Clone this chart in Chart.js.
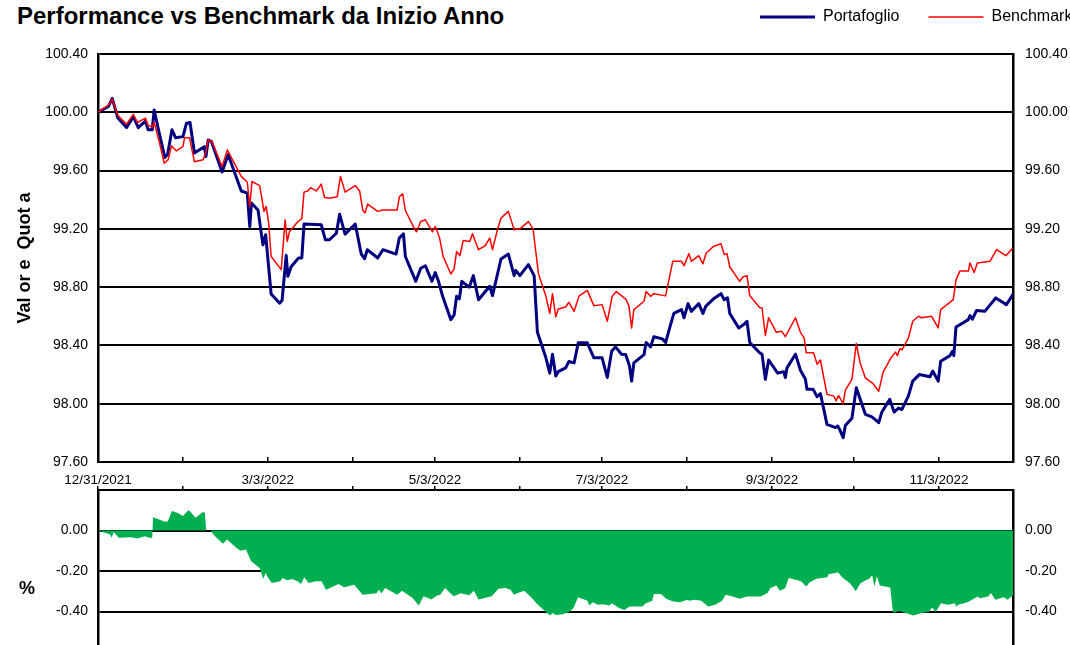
<!DOCTYPE html>
<html>
<head>
<meta charset="utf-8">
<script src="https://cdn.jsdelivr.net/npm/chart.js@4.4.0/dist/chart.umd.min.js"></script>
<style>
html,body{margin:0;padding:0;width:1070px;height:645px;overflow:hidden;background:#fff}
#title{position:absolute;left:17px;top:4px;font:bold 24px "Liberation Sans",Arial,sans-serif;line-height:24px;color:#000;white-space:nowrap}
#pct{position:absolute;left:19px;top:578px;font:bold 18px "Liberation Sans",Arial,sans-serif;color:#000}
#c1{position:absolute;left:0;top:0}
#c2{position:absolute;left:0;top:478px}
</style>
</head>
<body>
<div id="title">Performance vs Benchmark da Inizio Anno</div>
<canvas id="c1" width="1110" height="490"></canvas>
<canvas id="c2" width="1110" height="200"></canvas>
<div id="pct">%</div>
<script>
// days since 12/31/2021
const tickDays=[0,31,62,93,123,154,184,215,246,276,307]
const tickLabels=["12/31/2021","3/3/2022","5/3/2022","7/3/2022","9/3/2022","11/3/2022"]
const exTicks=[0,-0.2,-0.4,-0.6]

const pfDays=[0,3.8,5.2,7.2,10.4,12.9,14.7,17.3,18.3,19.8,20.5,22.2,24.4,25.4,27,28.3,31,32.3,33.6,35.2,38.8,39.4,40.2,41.4,45.3,47.5,52.3,54.5,55.4,56,58.4,60.2,61.2,63.2,66.3,67.2,68.7,69.3,70.5,73.2,74.4,75.2,81.5,83,84.5,87,88.2,90.2,93.9,96.1,97.3,98.3,102.1,104,108.8,110,111.5,112.2,116,117.8,119.5,121.9,123.1,124.3,125.8,128.8,130,130.9,131.9,132.8,135.5,137,138.9,143,144,147.1,149.8,151.9,152.5,154,157.1,159.2,160.4,163.5,164.9,165.9,167.1,168,170.7,171.9,173.8,175.3,178.6,181,184,185.9,187.5,188.9,191.1,192.6,194,194.8,195.6,199.3,200.1,201.7,202.9,206,207.2,209,210.2,213,213.9,215.4,216.6,219.3,220.8,221.9,224.7,227.4,228.6,229.8,230.6,233.9,235.7,236.9,237.9,241.5,242.4,243.6,244.8,248.1,250.3,250.9,251.5,254.6,256.4,258.2,258.8,261,262.5,263.7,266.1,269.2,270,270.7,272,272.8,275.2,276.8,280.1,282.5,285,286.1,289,290.6,292.2,293.4,295.8,297.4,299.8,303.7,304.7,306.7,307.6,311,311.9,312.4,313.2,317.7,318.3,319.2,320.7,323.7,327.7,331.6,334]
const pfVals=[100,100.04,100.096,99.963,99.895,99.97,99.895,99.94,99.88,99.88,100.016,99.87,99.69,99.71,99.88,99.826,99.833,99.925,99.93,99.72,99.764,99.696,99.81,99.8,99.59,99.71,99.46,99.445,99.216,99.377,99.33,99.09,99.16,98.753,98.69,98.71,99.018,98.874,98.94,99,99,99.233,99.228,99.125,99.125,99.17,99.3,99.164,99.233,99.027,98.995,99.057,99,99.057,99.027,99.137,99.166,99.01,98.84,98.93,98.947,98.84,98.9,98.84,98.737,98.577,98.61,98.737,98.72,98.84,98.8,98.879,98.714,98.806,98.742,98.993,99.027,98.879,98.915,98.879,98.954,98.879,98.49,98.315,98.21,98.34,98.19,98.22,98.246,98.29,98.28,98.418,98.418,98.315,98.315,98.18,98.36,98.39,98.34,98.337,98.26,98.155,98.28,98.337,98.42,98.39,98.46,98.445,98.42,98.543,98.62,98.646,98.59,98.687,98.634,98.687,98.62,98.67,98.72,98.755,98.714,98.726,98.62,98.52,98.543,98.566,98.42,98.35,98.34,98.167,98.3,98.21,98.22,98.18,98.246,98.34,98.23,98.17,98.1,98.1,98.048,98.07,97.858,97.836,97.847,97.825,97.767,97.85,97.9,98.11,97.927,97.91,97.87,97.942,98.03,97.943,97.97,97.96,98.052,98.155,98.2,98.185,98.224,98.155,98.292,98.33,98.36,98.33,98.527,98.577,98.605,98.58,98.64,98.634,98.726,98.68,98.75]

const bmDays=[0,3.8,5.2,7.2,10.4,12.9,14.4,17.3,18.3,19.8,20.5,22.2,24.2,25.6,26.8,28.6,31,31.6,33.4,35.2,38.4,39.4,40.2,41.6,45.3,47.2,52.3,54.5,55.4,56.2,59,60.6,61.4,62.3,63.2,66.9,68.3,69.1,69.9,73,74.4,75.2,76.6,77.6,79.7,81.5,82.7,84.5,87.3,88.5,90.2,93.9,95.5,96.7,97.5,98.4,102.1,104,109.2,110,111.2,112.2,115.8,116.3,117.8,119.5,122.1,123.1,124.6,126,128.8,130,130.9,132.1,133.3,135.7,136.7,138.9,141.3,143,144,145.8,147.1,149.8,151.9,154,157.1,158.8,160.8,163.5,164.9,165.9,167.1,168,170.7,171.9,173.8,175.6,178.6,181,184,185.9,187.7,189.2,192.8,193.8,194.8,195.6,199.3,200.1,201.7,202.9,207.2,209.8,213,213.9,215.7,216.6,219.3,220.8,222,224.7,227.4,228.6,229.6,230.6,234.2,235.4,236.9,237.9,241.5,242.4,243.6,244.8,247.6,249.6,250.9,254.6,256.4,257.8,258.5,261.2,262.5,263.7,266.1,268.6,269.5,270.3,272,272.8,275.2,276.8,278.2,280.1,282.8,285,286.6,289.3,291.1,291.8,292.7,293.5,295.8,297.4,299.5,300.5,304.3,306.7,307.6,312.2,313.2,314.6,317.7,318.3,319.8,321,325.6,328,331.4,334]
const bmVals=[100,100.05,100.09,99.98,99.918,99.986,99.93,99.96,99.91,99.9,99.93,99.81,99.65,99.674,99.77,99.735,99.764,99.826,99.826,99.66,99.674,99.73,99.81,99.8,99.627,99.742,99.56,99.52,99.353,99.525,99.497,99.32,99.353,99.24,99.01,98.92,99.262,99.114,99.18,99.25,99.27,99.452,99.46,99.483,99.46,99.507,99.415,99.41,99.42,99.56,99.452,99.497,99.46,99.324,99.31,99.37,99.32,99.33,99.33,99.42,99.44,99.326,99.19,99.18,99.25,99.262,99.18,99.216,99.144,99.01,98.89,98.925,99.045,99.016,99.12,99.114,99.167,99.057,99.084,99.137,99.057,99.194,99.274,99.32,99.194,99.2,99.25,99.2,98.89,98.737,98.62,98.755,98.596,98.65,98.664,98.696,98.634,98.74,98.778,98.673,98.68,98.566,98.737,98.77,98.714,98.67,98.52,98.646,98.703,98.77,98.737,98.755,98.74,98.977,98.977,98.947,99.03,98.977,99.016,98.96,99.034,99.08,99.098,99.023,99.03,98.94,98.84,98.87,98.879,98.742,98.66,98.657,98.468,98.59,98.49,98.497,98.46,98.59,98.49,98.45,98.35,98.35,98.27,98.3,98.064,98.052,98.02,98.057,98,98.093,98.167,98.413,98.28,98.178,98.14,98.086,98.217,98.31,98.354,98.33,98.377,98.37,98.45,98.566,98.6,98.59,98.6,98.52,98.646,98.714,98.85,98.91,98.91,98.966,98.9,98.966,98.977,99.057,99.016,99.07]

const exDays=[0,4.4,5,5.7,7.6,12,14.4,17,18.9,19.8,20.1,24.5,25.5,27,28.9,31,33,33.5,35.6,38.3,39,39.5,41,42.7,45.6,47.1,50.8,52.1,54,55.9,59,60.3,61.2,61.9,63.4,66.5,67.4,69,70.9,72.8,74.1,75.3,76.9,79.5,81.6,83.2,84.7,87.8,89.8,93.5,96.6,99.1,101.7,102.5,103.5,104.8,109.2,111,114.8,117.1,118.8,121.7,124.2,124.8,126.7,129.8,132.4,135.5,137.2,138.9,143.7,146.2,148.7,150.6,151.8,153.7,155.6,158.1,160.1,162.7,165,165.9,167.1,169.7,172.3,173.6,175.2,176.7,178.7,179.3,180.6,182.5,184.4,186.7,187.5,190.2,192.1,194,195.9,198.7,200,202.3,202.9,205.5,207.4,210,212.5,215.1,216,217.6,220.2,222.7,225.3,227.8,229.1,231.7,234.2,236.8,241.9,244.4,245.5,247.6,248.9,250.9,252.1,254.7,256.6,258.5,259.8,262.3,266.2,266.8,269.4,270,271.9,274.5,276.6,278.3,279.6,281.5,282.6,283.4,284.3,285.4,289.2,290.2,292.4,294.9,297.5,300.7,303.2,304.5,305.8,307.7,310.3,312.8,313.2,314.5,316.2,317.9,321.1,322,325,326,327.5,330.7,332,334]
const exVals=[0,-0.02,-0.036,-0.007,-0.036,-0.033,-0.04,-0.028,-0.036,-0.036,0.066,0.043,0.046,0.096,0.088,0.071,0.1,0.096,0.063,0.091,0.088,0,0,-0.028,-0.066,-0.045,-0.089,-0.1,-0.094,-0.152,-0.185,-0.238,-0.21,-0.23,-0.259,-0.251,-0.235,-0.246,-0.24,-0.251,-0.264,-0.231,-0.259,-0.251,-0.251,-0.292,-0.284,-0.264,-0.28,-0.268,-0.317,-0.314,-0.31,-0.292,-0.31,-0.284,-0.317,-0.298,-0.333,-0.37,-0.325,-0.341,-0.317,-0.32,-0.284,-0.325,-0.31,-0.32,-0.298,-0.341,-0.325,-0.288,-0.284,-0.292,-0.317,-0.306,-0.298,-0.33,-0.36,-0.392,-0.42,-0.408,-0.417,-0.413,-0.4,-0.383,-0.33,-0.337,-0.347,-0.37,-0.354,-0.367,-0.364,-0.37,-0.359,-0.383,-0.392,-0.375,-0.375,-0.375,-0.359,-0.347,-0.314,-0.314,-0.337,-0.35,-0.354,-0.342,-0.347,-0.342,-0.347,-0.375,-0.367,-0.347,-0.317,-0.326,-0.337,-0.326,-0.326,-0.309,-0.284,-0.271,-0.298,-0.284,-0.235,-0.243,-0.251,-0.276,-0.255,-0.238,-0.231,-0.215,-0.21,-0.205,-0.235,-0.26,-0.3,-0.26,-0.251,-0.238,-0.221,-0.276,-0.226,-0.271,-0.281,-0.408,-0.397,-0.408,-0.42,-0.408,-0.403,-0.38,-0.403,-0.359,-0.367,-0.359,-0.375,-0.364,-0.359,-0.35,-0.326,-0.334,-0.326,-0.309,-0.342,-0.33,-0.342,-0.32]

Chart.defaults.font.family='"Liberation Sans", Arial, sans-serif'
Chart.defaults.color="#000"
Chart.defaults.animation=false

function pts(days,vals){
return days.map((d,i)=>({x:d,y:vals[i]}))
}

const fix2=v=>Number(v).toFixed(2)

// keeps some room under the legend
const legendGap={
id:"legendGap",
beforeInit(chart){
const fit=chart.legend.fit
chart.legend.fit=function(){
fit.call(this)
this.height+=19
}
}
}

// y axes: no extra room for the outer tick labels
function yFit(w){
return s=>{
s.width=w
s.paddingTop=0
s.paddingBottom=0
}
}

const topChart=new Chart(document.getElementById("c1"),{
type:"line",
data:{
datasets:[
{
label:"Portafoglio",
data:pts(pfDays,pfVals),
borderColor:"#000080",
backgroundColor:"#000080",
borderWidth:3,
borderJoinStyle:"round",
pointRadius:0,
tension:0,
order:1
},
{
label:"Benchmark",
data:pts(bmDays,bmVals),
borderColor:"#ff0000",
backgroundColor:"#ff0000",
borderWidth:1.5,
borderJoinStyle:"round",
pointRadius:0,
tension:0,
order:0
}
]
},
options:{
responsive:false,
layout:{padding:{top:-20,right:8.6,left:0,bottom:0}},
plugins:{
legend:{
position:"top",
align:"end",
labels:{
usePointStyle:true,
pointStyle:"line",
pointStyleWidth:55,
padding:29,
font:{size:16},
sort:(a,b)=>a.datasetIndex-b.datasetIndex
}
},
tooltip:{enabled:false}
},
scales:{
x:{
type:"linear",
min:0,
max:334,
afterBuildTicks:s=>{s.ticks=tickDays.map(v=>({value:v}))},
afterFit:s=>{s.height=28},
ticks:{
autoSkip:false,
maxRotation:0,
padding:15,
font:{size:13.5},
callback:(v,i)=>i%2===0?tickLabels[i/2]:""
},
grid:{drawOnChartArea:false,drawTicks:true,tickLength:-5,color:"#000",lineWidth:1.5},
border:{color:"#000",width:2}
},
y:{
position:"left",
min:97.6,
max:100.4,
afterFit:yFit(98),
ticks:{stepSize:0.4,padding:10,font:{size:14},callback:fix2},
grid:{color:"#000",lineWidth:2,drawTicks:false},
border:{color:"#000",width:2.5},
title:{display:true,text:"Val or e  Quot a",font:{size:18,weight:"bold"},padding:{top:14,bottom:0}}
},
y2:{
position:"right",
min:97.6,
max:100.4,
afterFit:yFit(88.4),
ticks:{stepSize:0.4,padding:12,font:{size:14},callback:fix2},
grid:{drawOnChartArea:false,drawTicks:false},
border:{color:"#000",width:2.5}
}
}
},
plugins:[legendGap]
})

const excessChart=new Chart(document.getElementById("c2"),{
type:"line",
data:{
datasets:[
{
label:"Differenza",
data:pts(exDays,exVals),
borderWidth:0,
borderColor:"#00b050",
backgroundColor:"#00b050",
fill:"origin",
pointRadius:0,
tension:0
}
]
},
options:{
responsive:false,
layout:{padding:{top:0,right:8.6,left:0,bottom:26}},
plugins:{legend:{display:false},tooltip:{enabled:false}},
scales:{
x:{
type:"linear",
position:"top",
min:0,
max:334,
afterBuildTicks:s=>{s.ticks=tickDays.map(v=>({value:v}))},
afterFit:s=>{s.height=12},
ticks:{autoSkip:false,maxRotation:0,padding:0,callback:()=>""},
grid:{drawOnChartArea:false,drawTicks:true,tickLength:4,color:"#000",lineWidth:1.5},
border:{color:"#000",width:2}
},
y:{
position:"left",
min:-0.6,
max:0.2,
afterBuildTicks:s=>{s.ticks=exTicks.map(v=>({value:v}))},
afterFit:yFit(98),
ticks:{padding:10,font:{size:14},callback:fix2},
grid:{color:"#000",lineWidth:2,drawTicks:false},
border:{color:"#000",width:2.5}
},
y2:{
position:"right",
min:-0.6,
max:0.2,
afterBuildTicks:s=>{s.ticks=exTicks.map(v=>({value:v}))},
afterFit:yFit(88.4),
ticks:{padding:12,font:{size:14},callback:fix2},
grid:{drawOnChartArea:false,drawTicks:false},
border:{color:"#000",width:2.5}
}
}
}
})
</script>
</body>
</html>
